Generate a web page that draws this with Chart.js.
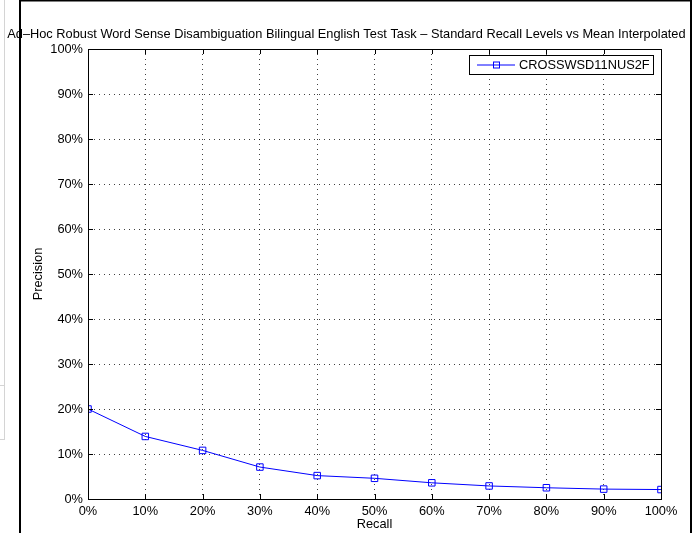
<!DOCTYPE html>
<html>
<head>
<meta charset="utf-8">
<script src="https://cdn.jsdelivr.net/npm/chart.js@4.4.0/dist/chart.umd.min.js"></script>
<style>
  body { margin: 0; background: #fff; }
  #wrap { width: 700px; height: 533px; position: relative; }
</style>
</head>
<body>
<div id="wrap"><canvas id="chart1"></canvas></div>
<script>
const chartTitle = 'Ad\u2013Hoc Robust Word Sense Disambiguation Bilingual English Test Task \u2013 Standard Recall Levels vs Mean Interpolated Precision';
const runName = 'CROSSWSD11NUS2F';
const recallLevels = [0, 10, 20, 30, 40, 50, 60, 70, 80, 90, 100];
const precisionValues = [20.0, 13.9, 10.8, 7.1, 5.2, 4.6, 3.6, 2.9, 2.5, 2.2, 2.1];
const xAxisLabel = 'Recall';
const yAxisLabel = 'Precision';

const fontFamily = '"Liberation Sans", Arial, Helvetica, sans-serif';
const fontSize = 12.8;
const blue = '#0000ff';

// matlab style: ticks inside the box, box around the plot, legend inside, title, window frame
const decorations = {
  id: 'decorations',
  afterDraw(chart) {
    const ctx = chart.ctx;
    const area = chart.chartArea;
    const xs = chart.scales.x;
    const ys = chart.scales.y;
    ctx.save();

    // inner tick marks
    ctx.strokeStyle = '#000';
    ctx.lineWidth = 1;
    ctx.beginPath();
    xs.ticks.forEach(t => {
      const px = Math.round(xs.getPixelForValue(t.value)) + 0.5;
      ctx.moveTo(px, area.bottom); ctx.lineTo(px, area.bottom - 5);
      ctx.moveTo(px, area.top); ctx.lineTo(px, area.top + 5);
    });
    ys.ticks.forEach(t => {
      const py = Math.round(ys.getPixelForValue(t.value)) + 0.5;
      ctx.moveTo(area.left, py); ctx.lineTo(area.left + 5, py);
      ctx.moveTo(area.right, py); ctx.lineTo(area.right - 5, py);
    });
    ctx.stroke();

    // box
    ctx.strokeRect(area.left + 0.5, area.top + 0.5, area.right - area.left, area.bottom - area.top);

    // legend
    const lx = 469, ly = 55, lw = 184, lh = 19;
    ctx.fillStyle = '#fff';
    ctx.fillRect(lx, ly, lw, lh);
    ctx.strokeStyle = '#000';
    ctx.strokeRect(lx + 0.5, ly + 0.5, lw, lh);
    const my = ly + lh / 2 + 0.5;
    ctx.strokeStyle = blue;
    ctx.beginPath();
    ctx.moveTo(lx + 8, my); ctx.lineTo(lx + 46, my);
    ctx.stroke();
    ctx.strokeRect(lx + 24.5, my - 3, 6, 6);
    ctx.fillStyle = '#000';
    ctx.font = fontSize + 'px ' + fontFamily;
    ctx.textAlign = 'left';
    ctx.textBaseline = 'middle';
    ctx.fillText(runName, lx + 50, my);

    // title, centred on the plot
    ctx.textAlign = 'center';
    ctx.textBaseline = 'alphabetic';
    ctx.fillText(chartTitle, (area.left + area.right) / 2, 38);

    // the window edge clips the title on the right
    ctx.fillStyle = '#fff';
    ctx.fillRect(690, 0, 10, chart.height);
    ctx.fillStyle = '#000';
    ctx.fillRect(690, 0, 2, chart.height);
    ctx.fillRect(19, 0, 2, chart.height);
    ctx.fillRect(19, 0, 673, 1.5);

    // bits of the page behind the window
    ctx.fillStyle = '#d4d4d4';
    ctx.fillRect(4, 0, 1, 440);
    ctx.fillRect(0, 385, 5, 1);
    ctx.fillRect(0, 439, 5, 1);
    ctx.restore();
  }
};

const points = recallLevels.map((r, i) => ({ x: r, y: precisionValues[i] }));

new Chart(document.getElementById('chart1'), {
  type: 'line',
  data: {
    datasets: [{
      label: runName,
      data: points,
      borderColor: blue,
      borderWidth: 1,
      backgroundColor: 'rgba(0,0,0,0)',
      pointStyle: 'rect',
      pointRadius: 4.6,
      pointBorderWidth: 1,
      pointBorderColor: blue,
      pointBackgroundColor: 'rgba(0,0,0,0)',
      tension: 0
    }]
  },
  options: {
    responsive: true,
    maintainAspectRatio: false,
    animation: false,
    events: [],
    layout: { padding: { top: 49, right: 39, left: 0, bottom: 0 } },
    plugins: {
      legend: { display: false },
      title: { display: false },
      tooltip: { enabled: false }
    },
    scales: {
      x: {
        type: 'linear',
        min: 0,
        max: 100,
        afterFit: s => { s.height = 34; },
        ticks: {
          stepSize: 10,
          padding: 5,
          maxRotation: 0,
          color: '#000',
          font: { family: fontFamily, size: fontSize },
          callback: v => v + '%'
        },
        grid: { color: 'rgba(0,0,0,0.75)', lineWidth: 1, drawTicks: false },
        border: { display: true, color: '#000', dash: [1, 4] },
        title: {
          display: true,
          text: xAxisLabel,
          color: '#000',
          font: { family: fontFamily, size: fontSize },
          padding: { top: 0, bottom: 1 }
        }
      },
      y: {
        type: 'linear',
        min: 0,
        max: 100,
        afterFit: s => { s.width = 88; },
        ticks: {
          stepSize: 10,
          padding: 5,
          color: '#000',
          font: { family: fontFamily, size: fontSize },
          callback: v => v + '%'
        },
        grid: { color: 'rgba(0,0,0,0.75)', lineWidth: 1, drawTicks: false },
        border: { display: true, color: '#000', dash: [1, 4] },
        title: {
          display: true,
          text: yAxisLabel,
          color: '#000',
          font: { family: fontFamily, size: fontSize },
          padding: { top: 31, bottom: 0 }
        }
      }
    }
  },
  plugins: [decorations]
});
</script>
</body>
</html>
